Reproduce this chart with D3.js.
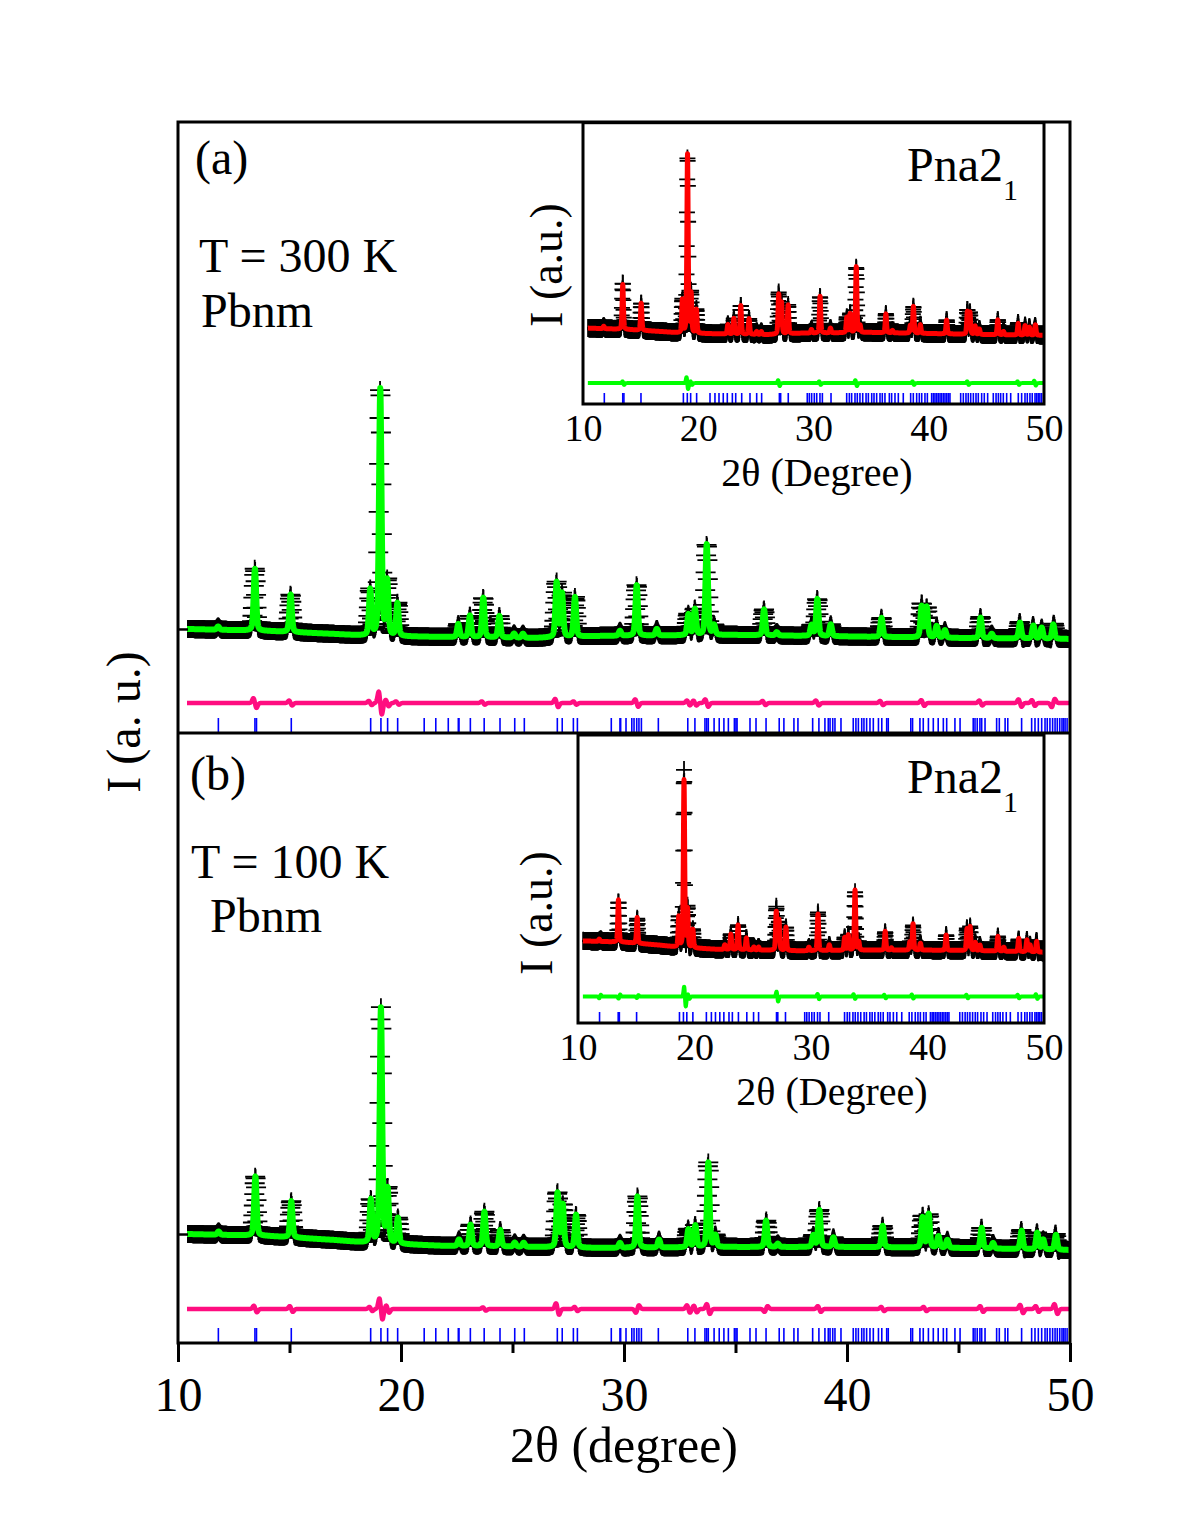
<!DOCTYPE html>
<html><head><meta charset="utf-8">
<script src="https://cdn.jsdelivr.net/npm/d3@7"></script>
<style>
body{margin:0;background:#fff}
svg{display:block}
text{font-family:"Liberation Serif","Times New Roman",serif;fill:#000}
</style>
</head><body>
<svg id="c" width="1188" height="1528"></svg>
<script>
// ---------------- DATA ----------------
const xTicksMajor = [10, 20, 30, 40, 50];
const xTicksMinor = [15, 25, 35, 45];
const xTicksInset = [10, 20, 30, 40, 50];

// background anchor points (2θ, intensity)
const bgAngles = [10.4, 14, 17, 18.5, 22, 26, 29, 35, 40, 45, 50];
const bgA = [277, 252, 215, 191, 178, 166, 191, 203, 185, 166, 154];
const bgB = [340, 316, 266, 230, 193, 180, 168, 180, 180, 168, 143];

// reflections of the fitted profile, T = 300 K
const peakPosA = [11.80, 13.45, 15.05, 18.62, 19.07, 19.38, 19.84, 22.57, 23.09, 23.69, 24.41, 25.07, 25.47, 26.98, 27.22, 27.80, 29.82, 30.57, 31.47, 32.89, 33.18, 33.71, 34.04, 36.28, 36.85, 38.41, 38.67, 39.27, 41.55, 43.35, 43.57, 44.02, 44.39, 45.99, 46.49, 47.76, 48.36, 48.73, 49.25];
const peakIntA = [40, 760, 460, 560, 3030, 660, 400, 160, 265, 485, 265, 50, 50, 670, 530, 485, 60, 620, 80, 255, 317, 1115, 117, 317, 40, 130, 452, 145, 233, 380, 370, 141, 92, 252, 55, 196, 160, 135, 176];
// reflections, T = 100 K
const peakPosB = [11.82, 13.47, 15.08, 18.65, 19.10, 19.40, 19.86, 22.60, 23.12, 23.74, 24.45, 25.10, 25.50, 27.02, 27.25, 27.85, 29.82, 30.60, 31.57, 32.89, 33.20, 33.78, 34.10, 36.37, 36.90, 38.49, 38.76, 39.39, 41.60, 43.39, 43.66, 44.10, 44.50, 46.04, 46.55, 47.83, 48.53, 48.80, 49.37];
const peakIntB = [40, 728, 445, 523, 2890, 650, 314, 80, 264, 424, 203, 50, 50, 662, 520, 400, 60, 630, 96, 219, 264, 1039, 141, 322, 40, 141, 452, 117, 264, 370, 410, 141, 96, 252, 68, 227, 203, 120, 184];

// difference-curve features (2θ, signed amplitude)
const diffPosA = [13.45, 15.05, 18.62, 19.07, 19.38, 19.84, 23.69, 26.98, 27.80, 30.57, 32.89, 33.18, 33.71, 36.28, 38.67, 41.55, 43.40, 46.00, 47.76, 48.36, 49.25];
const diffAmpA = [60, 30, 25, 140, 40, 20, 20, 50, 20, 45, 30, 30, 45, 25, 30, 25, 35, 30, 45, 35, -50];
const diffPosB = [13.47, 15.08, 18.65, 19.10, 19.40, 23.74, 27.02, 27.85, 30.60, 32.89, 33.20, 33.78, 36.37, 38.76, 41.60, 43.50, 46.04, 47.83, 48.53, 49.37];
const diffAmpB = [40, 35, 25, 130, 45, 20, 70, 25, -45, 45, 40, 60, -35, 35, 25, 25, 35, 50, 35, 60];
const diffPosInsetA = [13.50, 19.05, 19.40, 27.00, 30.56, 33.70, 38.66, 43.40, 47.77, 49.22];
const diffAmpInsetA = [30, 100, 30, 50, 30, 50, 30, 30, 30, 40];
const diffPosInsetB = [11.89, 13.55, 15.12, 19.18, 19.50, 27.11, 30.63, 33.72, 36.35, 38.72, 43.40, 47.80, 49.37];
const diffAmpInsetB = [-30, -35, -25, 170, 40, 85, 45, 40, 30, 35, 30, 30, 40];

// Bragg reflection markers
const braggPbnm = [11.81, 13.45, 13.52, 15.08, 18.64, 19.10, 19.40, 19.85, 21.04, 21.56, 22.12, 22.57, 22.60, 23.11, 23.73, 24.44, 25.10, 25.53, 27.01, 27.23, 27.73, 27.91, 29.43, 29.82, 29.85, 30.09, 30.35, 30.45, 30.57, 30.67, 30.78, 31.54, 32.86, 33.18, 33.63, 33.71, 33.78, 34.04, 34.27, 34.48, 34.68, 34.95, 35.02, 35.07, 35.65, 35.92, 36.37, 36.96, 37.17, 37.62, 37.80, 38.46, 38.74, 39.01, 39.16, 39.24, 39.36, 39.46, 39.73, 40.28, 40.40, 40.51, 40.66, 40.76, 40.88, 41.03, 41.18, 41.41, 41.56, 41.78, 41.85, 42.86, 42.94, 43.27, 43.42, 43.65, 43.87, 44.09, 44.32, 44.47, 44.84, 45.07, 45.66, 45.74, 45.84, 45.96, 46.04, 46.19, 46.71, 46.83, 47.09, 47.21, 47.83, 48.28, 48.43, 48.58, 48.73, 48.88, 48.98, 49.10, 49.22, 49.33, 49.43, 49.54, 49.64, 49.71, 49.78, 49.87];
const braggPna = [11.85, 13.45, 13.55, 15.03, 18.71, 19.05, 19.34, 19.86, 21.02, 21.45, 21.80, 22.17, 22.52, 22.96, 23.25, 23.77, 24.49, 25.07, 25.50, 27.04, 27.15, 27.81, 29.46, 29.64, 29.84, 30.07, 30.28, 30.56, 30.77, 31.52, 32.88, 33.11, 33.31, 33.60, 33.80, 34.03, 34.27, 34.56, 34.76, 35.05, 35.25, 35.48, 35.77, 35.97, 36.20, 36.58, 36.78, 37.07, 37.36, 37.79, 38.43, 38.66, 38.95, 39.18, 39.39, 39.67, 39.88, 40.25, 40.40, 40.54, 40.69, 40.83, 40.98, 41.12, 41.27, 41.41, 41.56, 41.70, 41.84, 42.77, 43.00, 43.23, 43.43, 43.64, 43.87, 44.10, 44.30, 44.59, 44.82, 45.11, 45.60, 45.84, 46.04, 46.24, 46.47, 46.76, 47.11, 47.77, 48.06, 48.35, 48.55, 48.78, 48.98, 49.22, 49.36, 49.50, 49.64, 49.79];

// intensity ticks on the left axis
const yTickA = [277];
const yTickB = [340];

// offsets of the difference curves (intensity units)
const diffOffsetA = -632, diffOffsetB = -582, diffOffsetInsetA = -656, diffOffsetInsetB = -623;

// ---------------- MODEL HELPERS ----------------
const FWHM = 0.13, ETA = 0.35, SIG = 0.07;
const X0 = 10.4, X1 = 50;
const obsGrid = d3.range(X0, X1 + 0.0001, 0.02);
const calcGrid = d3.range(X0, X1 + 0.0001, 0.005);

function calc(x, pos, inten, bg) {
  let s = d3.scaleLinear().domain(bgAngles).range(bg)(x);
  for (let i = 0; i < pos.length; i++) {
    const d = (x - pos[i]) / FWHM;
    s += inten[i] * (ETA / (1 + 4 * d * d) + (1 - ETA) * Math.exp(-4 * Math.LN2 * d * d));
  }
  return s;
}
function diff(x, pos, amp) {
  let s = 0;
  for (let i = 0; i < pos.length; i++) {
    const u = (x - pos[i]) / SIG;
    s += -amp[i] * u * Math.exp(0.5 - 0.5 * u * u);
  }
  return s;
}

// ---------------- DRAW ----------------
const svg = d3.select("#c");
const defs = svg.append("defs");
const L = 178, R = 1070;
const xMain = d3.scaleLinear().domain([10, 50]).range([L, R]);
let clipId = 0;

function drawPattern(g, x, y, cfg) {
  const { pos, inten, bg, dpos, damp, doff, bragg, braggTop, braggBot, calcColor, diffColor, mw, mh, lw, dw, top } = cfg;
  const id = "clip" + (clipId++);
  defs.append("clipPath").attr("id", id).append("rect")
    .attr("x", x(X0)).attr("y", top).attr("width", x(X1) - x(X0)).attr("height", braggBot - top);
  const cg = g.append("g").attr("clip-path", `url(#${id})`);
  const obs = obsGrid.map(t => ({ t, v: calc(t, pos, inten, bg) + diff(t, dpos, damp) }));
  const cal = calcGrid.map(t => ({ t, v: calc(t, pos, inten, bg) }));
  const dif = calcGrid.map(t => ({ t, v: doff + diff(t, dpos, damp) }));
  cg.append("g").selectAll("path").data(obs).join("path")
    .attr("d", d => `M${x(d.t) - mw},${y(d.v)}h${2 * mw}M${x(d.t)},${y(d.v) - mh}v${2 * mh}`)
    .attr("stroke", "#000").attr("stroke-width", 1.8).attr("fill", "none");
  const line = d3.line().x(d => x(d.t)).y(d => y(d.v));
  cg.append("path").datum(cal).attr("d", line).attr("fill", "none")
    .attr("stroke", calcColor).attr("stroke-width", lw).attr("stroke-linejoin", "round");
  cg.append("path").datum(dif).attr("d", line).attr("fill", "none")
    .attr("stroke", diffColor).attr("stroke-width", dw).attr("stroke-linejoin", "round");
  g.append("g").selectAll("line").data(bragg).join("line")
    .attr("x1", d => x(d)).attr("x2", d => x(d))
    .attr("y1", braggTop).attr("y2", braggBot)
    .attr("stroke", "#0000ff").attr("stroke-width", 1.6);
}

const mainPanels = [
  { top: 122, bot: 733, pos: peakPosA, inten: peakIntA, bg: bgA, dpos: diffPosA, damp: diffAmpA, doff: diffOffsetA, ytick: yTickA },
  { top: 733, bot: 1343, pos: peakPosB, inten: peakIntB, bg: bgB, dpos: diffPosB, damp: diffAmpB, doff: diffOffsetB, ytick: yTickB }
];
mainPanels.forEach(p => {
  const y = d3.scaleLinear().domain([-1000, 6500]).range([p.bot, p.top]);
  const g = svg.append("g");
  drawPattern(g, xMain, y, {
    pos: p.pos, inten: p.inten, bg: p.bg, dpos: p.dpos, damp: p.damp, doff: p.doff, top: p.top,
    bragg: braggPbnm, braggTop: p.bot - 15, braggBot: p.bot,
    calcColor: "#00ff00", diffColor: "#ff0d80", mw: 10, mh: 9, lw: 6, dw: 4.5
  });
  g.append("g").attr("transform", `translate(${L},0)`)
    .call(d3.axisLeft(y).tickValues(p.ytick).tickSize(-10).tickFormat(""))
    .call(a => a.select(".domain").remove())
    .call(a => a.selectAll("line").attr("stroke", "#000").attr("stroke-width", 2.5));
});

// main frames
svg.append("rect").attr("x", L).attr("y", 122).attr("width", R - L).attr("height", 1343 - 122)
  .attr("fill", "none").attr("stroke", "#000").attr("stroke-width", 3);
svg.append("line").attr("x1", L).attr("x2", R).attr("y1", 733).attr("y2", 733)
  .attr("stroke", "#000").attr("stroke-width", 3);

// main x axis
const ax = svg.append("g").attr("transform", "translate(0,1343)");
ax.call(d3.axisBottom(xMain).tickValues(xTicksMajor).tickSize(19).tickFormat(d3.format("d")))
  .call(a => a.select(".domain").remove())
  .call(a => a.selectAll("line").attr("stroke", "#000").attr("stroke-width", 3))
  .call(a => a.selectAll("text").attr("y", 68).attr("dy", 0)
    .style("font-family", '"Liberation Serif",serif').style("font-size", "48px").attr("fill", "#000"));
svg.append("g").attr("transform", "translate(0,1343)")
  .call(d3.axisBottom(xMain).tickValues(xTicksMinor).tickSize(10).tickFormat(""))
  .call(a => a.select(".domain").remove())
  .call(a => a.selectAll("line").attr("stroke", "#000").attr("stroke-width", 3));

svg.append("text").attr("x", 624).attr("y", 1462).attr("text-anchor", "middle")
  .style("font-size", "50px").text("2θ (degree)");
svg.append("text").attr("transform", "translate(140,722) rotate(-90)").attr("text-anchor", "middle")
  .style("font-size", "48px").text("I (a. u.)");

// panel annotations
const ann = [
  { x: 195, y: 174, s: "(a)" }, { x: 199, y: 272, s: "T = 300 K" }, { x: 201, y: 327, s: "Pbnm" },
  { x: 190, y: 790, s: "(b)" }, { x: 191, y: 878, s: "T = 100 K" }, { x: 210, y: 932, s: "Pbnm" }
];
ann.forEach(a => svg.append("text").attr("x", a.x).attr("y", a.y).style("font-size", "48px").text(a.s));

// insets
const insets = [
  { l: 583, r: 1044, top: 122.7, bot: 404, dom: [-1010, 3760], pos: peakPosA, inten: peakIntA, bg: bgA,
    dpos: diffPosInsetA, damp: diffAmpInsetA, doff: diffOffsetInsetA, xlab: 817, ylabX: 562, ylabY: 265 },
  { l: 578, r: 1044, top: 735, bot: 1023, dom: [-1080, 3900], pos: peakPosB, inten: peakIntB, bg: bgB,
    dpos: diffPosInsetB, damp: diffAmpInsetB, doff: diffOffsetInsetB, xlab: 832, ylabX: 552, ylabY: 913 }
];
insets.forEach(p => {
  const x = d3.scaleLinear().domain([10, 50]).range([p.l, p.r]);
  const y = d3.scaleLinear().domain(p.dom).range([p.bot, p.top]);
  const g = svg.append("g");
  g.append("rect").attr("x", p.l).attr("y", p.top).attr("width", p.r - p.l).attr("height", p.bot - p.top).attr("fill", "#fff");
  drawPattern(g, x, y, {
    pos: p.pos, inten: p.inten, bg: p.bg, dpos: p.dpos, damp: p.damp, doff: p.doff, top: p.top,
    bragg: braggPna, braggTop: p.bot - 11, braggBot: p.bot,
    calcColor: "#ff0000", diffColor: "#00ff00", mw: 8, mh: 9, lw: 5, dw: 4
  });
  g.append("rect").attr("x", p.l).attr("y", p.top).attr("width", p.r - p.l).attr("height", p.bot - p.top)
    .attr("fill", "none").attr("stroke", "#000").attr("stroke-width", 3);
  g.append("g").attr("transform", `translate(0,${p.bot})`)
    .call(d3.axisBottom(x).tickValues(xTicksInset).tickSize(0).tickFormat(d3.format("d")))
    .call(a => a.select(".domain").remove())
    .call(a => a.selectAll("text").attr("y", 37).attr("dy", 0)
      .style("font-family", '"Liberation Serif",serif').style("font-size", "38px").attr("fill", "#000"));
  g.append("text").attr("x", p.xlab).attr("y", p.bot + 82).attr("text-anchor", "middle")
    .style("font-size", "40px").text("2θ (Degree)");
  g.append("text").attr("transform", `translate(${p.ylabX},${p.ylabY}) rotate(-90)`).attr("text-anchor", "middle")
    .style("font-size", "46px").text("I (a.u.)");
  const t = g.append("text").attr("x", 907).attr("y", p.top + 58).style("font-size", "48px");
  t.append("tspan").text("Pna2");
  t.append("tspan").attr("dy", 19).style("font-size", "30px").text("1");
});
</script>
</body></html>
